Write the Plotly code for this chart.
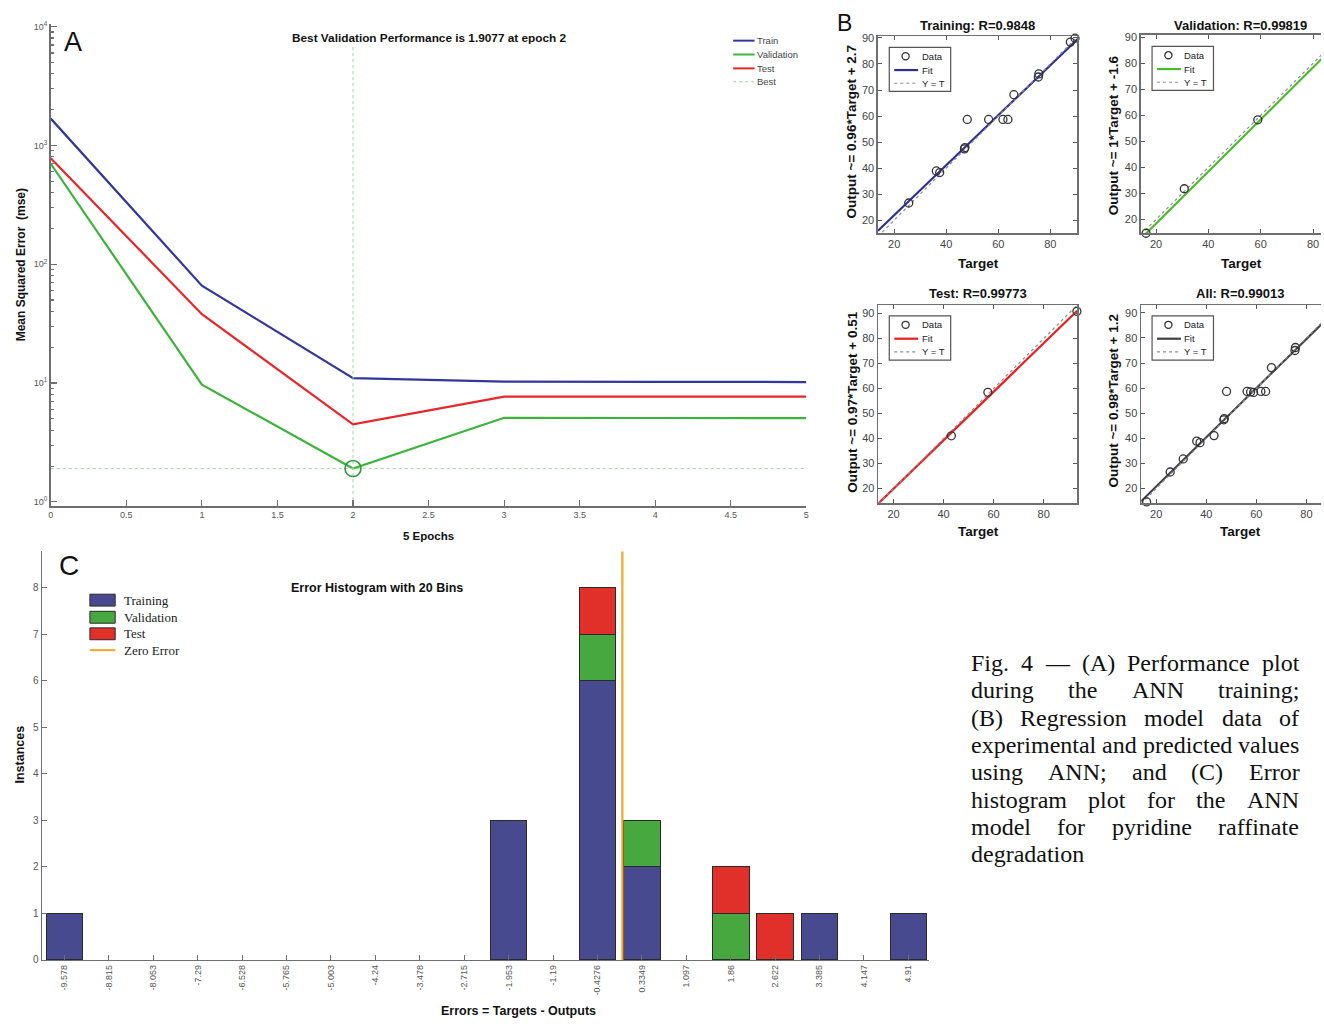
import plotly.graph_objects as go

W, H = 1324, 1024


def px(x):
    return x / W


def py(y):
    return 1 - y / H


SANS = "Arial, Liberation Sans, Helvetica, sans-serif"
SERIF = "Liberation Serif, Times New Roman, serif"

# ---------------- Panel A data ----------------
epochs = [0, 1, 2, 3, 4, 5]
mse_train = [1680, 66, 11.0, 10.3, 10.25, 10.2]
mse_val = [700, 9.7, 1.9077, 5.1, 5.08, 5.06]
mse_test = [780, 38, 4.5, 7.7, 7.7, 7.7]
best_epoch = 2
best_perf = 1.9077
a_xticks = [0, 0.5, 1, 1.5, 2, 2.5, 3, 3.5, 4, 4.5, 5]

# ---------------- Panel B data ----------------
train_target = [25.6, 36.2, 37.5, 47.0, 47.2, 48.1, 56.3, 61.8, 63.7, 66.0, 75.4, 75.6, 87.7, 89.5]
train_output = [26.6, 38.9, 38.3, 47.4, 47.9, 58.7, 58.7, 58.7, 58.7, 68.2, 75.0, 76.2, 88.4, 89.9]
val_target = [16.2, 30.8, 58.9]
val_output = [14.7, 31.8, 58.3]
test_target = [43.1, 57.7, 93.3]
test_output = [41.1, 58.5, 90.9]
fit_slopes = [0.96, 1, 0.97, 0.98]
fit_intercepts = [2.7, -1.6, 0.51, 1.2]
r_values = ["0.9848", "0.99819", "0.99773", "0.99013"]
reg_names = ["Training", "Validation", "Test", "All"]

# ---------------- Panel C data ----------------
bin_centers = [-9.578, -8.815, -8.053, -7.29, -6.528, -5.765, -5.003, -4.24, -3.478, -2.715,
               -1.953, -1.19, -0.4276, 0.3349, 1.097, 1.86, 2.622, 3.385, 4.147, 4.91]
bin_labels = ["-9.578", "-8.815", "-8.053", "-7.29", "-6.528", "-5.765", "-5.003", "-4.24", "-3.478", "-2.715",
              "-1.953", "-1.19", "-0.4276", "0.3349", "1.097", "1.86", "2.622", "3.385", "4.147", "4.91"]
hist_train = [1, 0, 0, 0, 0, 0, 0, 0, 0, 0, 3, 0, 6, 2, 0, 0, 0, 1, 0, 1]
hist_val = [0, 0, 0, 0, 0, 0, 0, 0, 0, 0, 0, 0, 1, 1, 0, 1, 0, 0, 0, 0]
hist_test = [0, 0, 0, 0, 0, 0, 0, 0, 0, 0, 0, 0, 1, 0, 0, 1, 1, 0, 0, 0]

C_TRAIN = "#474a8f"
C_VAL = "#46a83f"
C_TEST = "#e1302a"
C_ZERO = "#f2a62c"

A_BLUE = "#34379a"
A_GREEN = "#3cb43c"
A_RED = "#e8262a"
A_BEST = "#9ed49e"

fig = go.Figure()

# ---------------- Panel A traces ----------------
for ys, col in [(mse_train, A_BLUE), (mse_val, A_GREEN), (mse_test, A_RED)]:
    fig.add_trace(go.Scatter(x=epochs, y=ys, mode="lines", line=dict(color=col, width=2.2),
                             xaxis="x", yaxis="y", showlegend=False, hoverinfo="skip"))
fig.add_trace(go.Scatter(x=[best_epoch, best_epoch], y=[10 ** -0.035, 10 ** 3.83], mode="lines",
                         line=dict(color=A_BEST, width=1, dash="dot"), xaxis="x", yaxis="y",
                         showlegend=False, hoverinfo="skip"))
fig.add_trace(go.Scatter(x=[epochs[0], epochs[-1]], y=[best_perf, best_perf], mode="lines",
                         line=dict(color=A_BEST, width=1, dash="dot"), xaxis="x", yaxis="y",
                         showlegend=False, hoverinfo="skip"))
fig.add_trace(go.Scatter(x=[best_epoch], y=[best_perf], mode="markers",
                         marker=dict(symbol="circle-open", size=16, color="#2a9a3a", line=dict(width=1.6)),
                         xaxis="x", yaxis="y", showlegend=False, hoverinfo="skip"))

# ---------------- Panel B traces ----------------
all_target = train_target + val_target + test_target
all_output = train_output + val_output + test_output
reg_sets = [(train_target, train_output), (val_target, val_output),
            (test_target, test_output), (all_target, all_output)]
fit_colors = ["#2f3192", "#4cbb2a", "#e8201c", "#404040"]
lims = [(13.8, 90.5), (14.2, 90.6), (13.95, 93.4), (14.0, 93.4)]
ranges_x = [[13.8, 90.3], [14.2, 83.05], [13.9, 93.5], [14.0, 85.8]]
ranges_y = [[14.9, 90.6], [14.7, 91.0], [14.05, 93.3], [14.1, 93.0]]

for i, ((tx, ty), col, (lo, hi)) in enumerate(zip(reg_sets, fit_colors, lims)):
    xa = "x%d" % (i + 2)
    ya = "y%d" % (i + 2)
    a, b = fit_slopes[i], fit_intercepts[i]
    fig.add_trace(go.Scatter(x=[lo, hi], y=[a * lo + b, a * hi + b], mode="lines",
                             line=dict(color=col, width=2.2), xaxis=xa, yaxis=ya,
                             showlegend=False, hoverinfo="skip"))
    fig.add_trace(go.Scatter(x=[lo, hi], y=[lo, hi], mode="lines",
                             line=dict(color="#8a8aa0", width=1.2, dash="dot"), xaxis=xa, yaxis=ya,
                             showlegend=False, hoverinfo="skip"))
    fig.add_trace(go.Scatter(x=tx, y=ty, mode="markers",
                             marker=dict(symbol="circle-open", size=8, color="#333333", line=dict(width=1.3)),
                             xaxis=xa, yaxis=ya, showlegend=False, hoverinfo="skip", cliponaxis=False))

# ---------------- Panel C traces ----------------
bar_w = 0.63
for counts, col in [(hist_train, C_TRAIN), (hist_val, C_VAL), (hist_test, C_TEST)]:
    xs = [c for c, n in zip(bin_centers, counts) if n > 0]
    ys = [n for n in counts if n > 0]
    fig.add_trace(go.Bar(x=xs, y=ys, width=[bar_w] * len(xs),
                         marker=dict(color=col, line=dict(color="#2a2a2a", width=1)),
                         xaxis="x6", yaxis="y6", showlegend=False, hoverinfo="skip"))
fig.add_trace(go.Scatter(x=[0, 0], y=[0, 8.79], mode="lines", line=dict(color=C_ZERO, width=2.2),
                         xaxis="x6", yaxis="y6", showlegend=False, hoverinfo="skip"))

# ---------------- Axes ----------------
AX_LINE = "#6f6f6f"
layout_axes = {}

minor_vals = [m * 10 ** k for k in range(0, 4) for m in range(2, 10)]
layout_axes["xaxis"] = dict(domain=[px(48), px(807)], range=[0, 5], tickvals=a_xticks,
                            ticktext=["%g" % v for v in a_xticks], ticks="inside", ticklen=6,
                            tickcolor=AX_LINE, tickwidth=1.2, showline=True, linecolor=AX_LINE, linewidth=1.6,
                            showgrid=False, zeroline=False, anchor="y",
                            tickfont=dict(family=SANS, size=9, color="#555"))
layout_axes["yaxis"] = dict(domain=[py(506), py(19.6)], type="log", range=[-0.035, 4.018],
                            tickvals=[1, 10, 100, 1000, 10000],
                            ticktext=["10<sup>%d</sup>" % k for k in range(5)],
                            ticks="inside", ticklen=6, tickcolor=AX_LINE, tickwidth=1.2,
                            minor=dict(ticks="inside", ticklen=3, tickvals=minor_vals, tickcolor=AX_LINE,
                                       showgrid=False),
                            showline=True, linecolor=AX_LINE, linewidth=1.6, showgrid=False,
                            zeroline=False, anchor="x",
                            tickfont=dict(family=SANS, size=9, color="#555"))

bx_dom = [[879, 1079], [1143, 1324], [879.3, 1079.3], [1143.3, 1324]]
by_dom = [[230.7, 31.7], [230.5, 30.0], [503.3, 303.3], [503.3, 303.3]]
for i in range(4):
    n = i + 2
    cut = bx_dom[i][1] >= W
    layout_axes["xaxis%d" % n] = dict(
        domain=[px(bx_dom[i][0]), min(1.0, px(bx_dom[i][1]))], range=ranges_x[i],
        tickvals=[20, 40, 60, 80], ticks="inside", ticklen=4, tickcolor="#555",
        showline=True, linecolor=AX_LINE, linewidth=1.6, mirror="ticks",
        showgrid=False, zeroline=False, anchor="y%d" % n,
        tickfont=dict(family=SANS, size=11, color="#444"))
    layout_axes["yaxis%d" % n] = dict(
        domain=[py(by_dom[i][0]), py(by_dom[i][1])], range=ranges_y[i],
        tickvals=list(range(20, 100, 10)), ticks="inside", ticklen=4, tickcolor="#555",
        showline=True, linecolor=AX_LINE, linewidth=1.6, mirror=False if cut else "ticks",
        showgrid=False, zeroline=False, anchor="x%d" % n,
        tickfont=dict(family=SANS, size=11, color="#444"))

layout_axes["xaxis6"] = dict(domain=[px(39.3), px(930)], range=[-9.961, 5.26], tickvals=bin_centers,
                             ticktext=bin_labels, tickangle=-90, ticks="inside", ticklen=5,
                             tickcolor=AX_LINE, showline=True, linecolor=AX_LINE, linewidth=1.6,
                             showgrid=False, zeroline=False, anchor="y6",
                             tickfont=dict(family=SANS, size=9, color="#555"))
layout_axes["yaxis6"] = dict(domain=[py(964.3), py(551.6)], range=[0, 8.79], tickvals=list(range(0, 9)),
                             ticks="inside", ticklen=5, tickcolor=AX_LINE, showline=True,
                             linecolor=AX_LINE, linewidth=1.6, showgrid=False, zeroline=False,
                             anchor="x6", tickfont=dict(family=SANS, size=10, color="#555"))

# ---------------- Annotations ----------------
ann = []
shapes = []


def text(x, y, s, size, bold=False, color="#111", family=SANS, xanchor="center", angle=0):
    ann.append(dict(x=px(x), y=py(y), xref="paper", yref="paper", text=("<b>%s</b>" % s) if bold else s,
                    showarrow=False, xanchor=xanchor, yanchor="middle", textangle=angle, borderpad=0,
                    font=dict(family=family, size=size, color=color)))


# panel letters
text(60, 37, "A", 27, xanchor="left")
text(837, 18, "B", 23, xanchor="left")
text(55, 566, "C", 28, xanchor="left")

# Panel A texts
text(428, 33, "Best Validation Performance is %g at epoch %d" % (best_perf, best_epoch), 11.8, bold=True)
text(427, 536, "5 Epochs", 11.5, bold=True)
text(19, 262, "Mean Squared Error\u00a0 (mse)", 12, bold=True, angle=-90)

# Panel A legend
a_leg = [("Train", A_BLUE, "solid", 36), ("Validation", A_GREEN, "solid", 50),
         ("Test", A_RED, "solid", 64), ("Best", A_BEST, "dot", 77.5)]
for name, col, dash, yy in a_leg:
    shapes.append(dict(type="line", xref="paper", yref="paper", x0=px(733.5), x1=px(755), y0=py(yy),
                       y1=py(yy), line=dict(color=col, width=2 if dash == "solid" else 1, dash=dash)))
    text(756.5, yy, name, 9.5, color="#444", xanchor="left")

# Panel B texts
b_title_pos = [(979, 20.5), (1243, 20.5), (979, 291.5), (1243, 291.5)]
b_xt_pos = [(980, 261), (1244, 261), (980, 532), (1243, 532)]
b_yt_pos = [(852.5, 128), (1115.5, 131), (852.5, 401), (1115.5, 400)]
b_leg_pos = [(890.3, 42.7), (1154.3, 41.7), (890.3, 314), (1154.3, 314)]
for i in range(4):
    text(b_title_pos[i][0], b_title_pos[i][1], "%s: R=%s" % (reg_names[i], r_values[i]), 13, bold=True)
    text(b_xt_pos[i][0], b_xt_pos[i][1], "Target", 13.5, bold=True)
    text(b_yt_pos[i][0], b_yt_pos[i][1],
         "Output ~= %g*Target + %g" % (fit_slopes[i], fit_intercepts[i]), 13.5, bold=True, angle=-90)
    lx, ly = b_leg_pos[i]
    shapes.append(dict(type="rect", xref="paper", yref="paper", x0=px(lx), x1=px(lx + 61.7),
                       y0=py(ly), y1=py(ly + 44.6), line=dict(color="#555", width=1.2), fillcolor="white",
                       layer="above"))
    shapes.append(dict(type="circle", xref="paper", yref="paper", x0=px(lx + 16.4 - 3.6), x1=px(lx + 16.4 + 3.6),
                       y0=py(ly + 9 - 3.6), y1=py(ly + 9 + 3.6), line=dict(color="#333", width=1.3),
                       layer="above"))
    shapes.append(dict(type="line", xref="paper", yref="paper", x0=px(lx + 5), x1=px(lx + 29),
                       y0=py(ly + 23), y1=py(ly + 23), line=dict(color=fit_colors[i], width=2.2)))
    shapes.append(dict(type="line", xref="paper", yref="paper", x0=px(lx + 5), x1=px(lx + 29),
                       y0=py(ly + 36.3), y1=py(ly + 36.3), line=dict(color="#8a8aa0", width=1.2, dash="dot")))
    text(lx + 31.5, ly + 9, "Data", 9.5, color="#222", xanchor="left")
    text(lx + 31.5, ly + 23, "Fit", 9.5, color="#222", xanchor="left")
    text(lx + 31.5, ly + 36.3, "Y = T", 9.5, color="#222", xanchor="left")

# Panel C texts
text(376, 589, "Error Histogram with %d Bins" % len(bin_centers), 12.5, bold=True)
text(518, 1016, "Errors = Targets - Outputs", 12.5, bold=True)
text(17, 757, "Instances", 12.5, bold=True, angle=-90)

c_leg = [("Training", C_TRAIN, 601), ("Validation", C_VAL, 618.3), ("Test", C_TEST, 635)]
for name, col, yy in c_leg:
    shapes.append(dict(type="rect", xref="paper", yref="paper", x0=px(87.3), x1=px(112.7),
                       y0=py(yy - 6), y1=py(yy + 6), line=dict(color="#2a2a2a", width=1), fillcolor=col))
    text(120.5, yy, name, 13, color="#222", family=SERIF, xanchor="left")
shapes.append(dict(type="line", xref="paper", yref="paper", x0=px(87.3), x1=px(112.7), y0=py(651.5),
                   y1=py(651.5), line=dict(color=C_ZERO, width=2)))
text(120.5, 651.5, "Zero Error", 13, color="#222", family=SERIF, xanchor="left")

# ---------------- Caption (justified, word by word) ----------------
TW = {" ": 250, ".": 250, ",": 250, ";": 278, ":": 278, "(": 333, ")": 333, "\u2014": 1000,
      "a": 444, "b": 500, "c": 444, "d": 500, "e": 444, "f": 333, "g": 500, "h": 500, "i": 278,
      "j": 278, "k": 500, "l": 278, "m": 778, "n": 500, "o": 500, "p": 500, "q": 500, "r": 333,
      "s": 389, "t": 278, "u": 500, "v": 500, "w": 722, "x": 500, "y": 500, "z": 444,
      "A": 722, "B": 667, "C": 667, "E": 611, "F": 556, "N": 722, "P": 556, "R": 667}
caption = ["Fig. 4 \u2014 (A) Performance plot",
           "during the ANN training;",
           "(B) Regression model data of",
           "experimental and predicted values",
           "using ANN; and (C) Error",
           "histogram plot for the ANN",
           "model for pyridine raffinate",
           "degradation"]
FS = 24
X0, X1 = 971, 1301
for li, line in enumerate(caption):
    words = line.split(" ")
    widths = [sum(TW.get(ch, 500) for ch in w) * FS / 1000 for w in words]
    if li == len(caption) - 1 or len(words) == 1:
        gap = 250 * FS / 1000
    else:
        gap = (X1 - X0 - sum(widths)) / (len(words) - 1)
    base = 672.5 + li * 27.6
    xx = X0
    for w, wd in zip(words, widths):
        ann.append(dict(x=px(xx), y=py(base - 8.1), xref="paper", yref="paper", text=w, showarrow=False,
                        xanchor="left", yanchor="middle", borderpad=0,
                        font=dict(family=SERIF, size=FS, color="#111")))
        xx += wd + gap

fig.update_layout(
    width=W, height=H, autosize=False,
    margin=dict(l=0, r=0, t=0, b=0),
    paper_bgcolor="white", plot_bgcolor="white",
    showlegend=False, barmode="stack",
    annotations=ann, shapes=shapes,
    **layout_axes,
)

fig.write_html("out.html", config={"displayModeBar": False, "staticPlot": True},
               post_script="document.body.style.margin='0';document.body.style.padding='0';")
